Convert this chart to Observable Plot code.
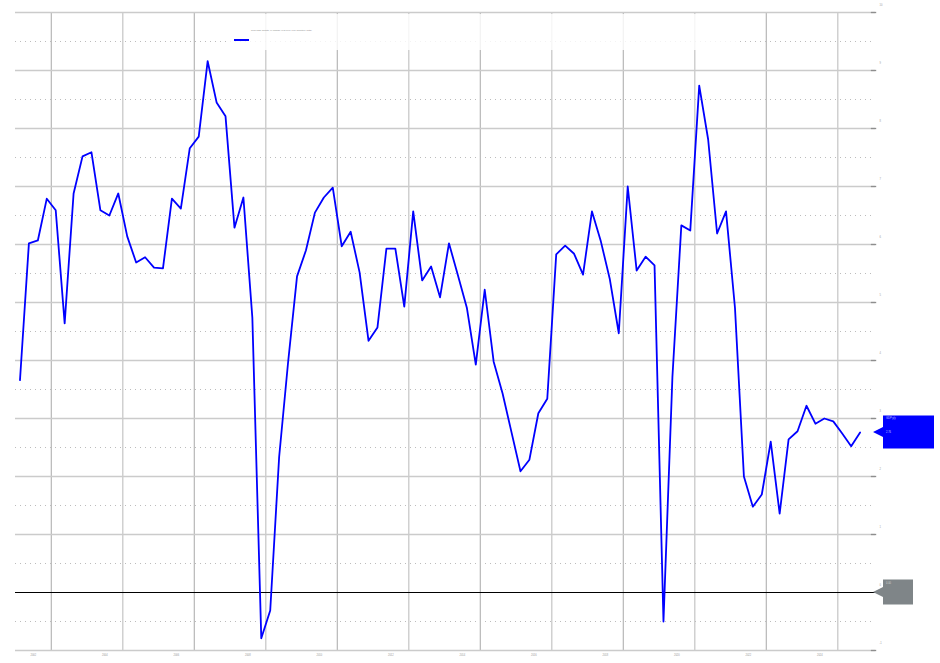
<!DOCTYPE html>
<html><head><meta charset="utf-8">
<script src="https://cdn.jsdelivr.net/npm/d3@7"></script>
<script src="https://cdn.jsdelivr.net/npm/@observablehq/plot@0.6"></script>
<style>body{margin:0;background:#fff}#chart svg{display:block}</style>
</head><body><div id="chart"></div>
<script>
// Quarterly series, first observation 2002 Q1 (plotted at mid-quarter)
const firstYear = 2002;
const seriesName = "Real GDP growth, % change year over year (quarterly data)";
const values = [
  3.66, 6.02, 6.07, 6.79, 6.59, 4.64, 6.88, 7.52, 7.59, 6.59,
  6.50, 6.88, 6.14, 5.69, 5.78, 5.60, 5.59, 6.79, 6.62, 7.66,
  7.86, 9.16, 8.45, 8.21, 6.29, 6.81, 4.74, -0.79, -0.31, 2.34,
  3.97, 5.45, 5.90, 6.55, 6.81, 6.98, 5.97, 6.22, 5.52, 4.34,
  4.57, 5.93, 5.93, 4.93, 6.57, 5.38, 5.62, 5.09, 6.02, 5.47,
  4.91, 3.93, 5.22, 3.98, 3.43, 2.76, 2.09, 2.29, 3.09, 3.34,
  5.83, 5.98, 5.84, 5.48, 6.57, 6.05, 5.40, 4.47, 7.00, 5.55,
  5.79, 5.64, -0.50, 3.71, 6.33, 6.24, 8.74, 7.81, 6.19, 6.57,
  4.91, 2.00, 1.48, 1.69, 2.60, 1.36, 2.64, 2.78, 3.22, 2.91,
  3.00, 2.95, 2.74, 2.52, 2.76
];
const yTicks = [-1, 0, 1, 2, 3, 4, 5, 6, 7, 8, 9, 10];
const yMinor = [-0.5, 0.5, 1.5, 2.5, 3.5, 4.5, 5.5, 6.5, 7.5, 8.5, 9.5];
const xGrid = [2003, 2005, 2007, 2009, 2011, 2013, 2015, 2017, 2019, 2021, 2023, 2025];
const xLabels = [2002, 2004, 2006, 2008, 2010, 2012, 2014, 2016, 2018, 2020, 2022, 2024];
const xDomain = [2002, 2026];
const yDomain = [-1, 10];
const lastLabelTop = "GDP y/y";
const zeroLabel = "0.00";

const data = values.map((v, i) => ({t: firstYear + i / 4 + 0.125, v}));
const last = data[data.length - 1];

const plot = Plot.plot({
  width: 940,
  height: 663,
  marginLeft: 15,
  marginRight: 67,
  marginTop: 12,
  marginBottom: 13,
  style: {background: "#fff", fontFamily: "Liberation Sans, Arial, sans-serif", overflow: "visible"},
  x: {type: "linear", domain: xDomain, axis: null},
  y: {type: "linear", domain: yDomain, axis: null},
  marks: [
    Plot.ruleX(xGrid.filter((d, i) => i % 2 === 0), {x: d => d, y1: yDomain[0], y2: yDomain[1], stroke: "#a8a8a8", strokeWidth: 1}),
    Plot.ruleX(xGrid.filter((d, i) => i % 2 === 1), {x: d => d, y1: yDomain[0], y2: yDomain[1], stroke: "#d0d0d0", strokeWidth: 1.5}),
    Plot.ruleY(yMinor, {y: d => d, x1: xDomain[0], x2: xDomain[1] - 0.03, stroke: "#bcbcbc", strokeDasharray: "1,4", strokeWidth: 1}),
    Plot.ruleY(yTicks.filter(d => d !== 0), {y: d => d, x1: xDomain[0], x2: xDomain[1] + 0.06, stroke: "#cbcbcb", strokeWidth: 1.3}),
    Plot.ruleY(yTicks.filter(d => d !== 0), {y: d => d, x1: xDomain[1] - 0.06, x2: xDomain[1] + 0.09, stroke: "#8e8e8e", strokeWidth: 1.3}),
    Plot.ruleY([0], {y: d => d, x1: xDomain[0], x2: xDomain[1] + 0.06, stroke: "#000", strokeWidth: 1}),
    Plot.text(yTicks, {x: xDomain[1], y: d => d, text: d => String(d), dx: 6, dy: -7, fontSize: 2.6, fill: "#9a9a9a", textAnchor: "start"}),
    Plot.text(xLabels, {x: d => d + 0.5, y: yDomain[0], text: d => String(d), dy: 5, fontSize: 2.6, fill: "#9a9a9a"}),
    Plot.line(data, {x: "t", y: "v", stroke: "#0000ff", strokeWidth: 1.8})
  ]
});

const svg = d3.select(plot);
const xs = plot.scale("x"), ys = plot.scale("y");
const xr = xs.apply(xDomain[1]);

// legend
const lg = svg.append("g").attr("text-anchor", "start");
lg.append("rect").attr("x", 230).attr("y", 14).attr("width", 510).attr("height", 36).attr("fill", "#fff").attr("fill-opacity", 0.82);
lg.append("line").attr("x1", 234).attr("x2", 249).attr("y1", 40).attr("y2", 40).attr("stroke", "#0000ff").attr("stroke-width", 2);
lg.append("text").attr("x", 251).attr("y", 31).attr("font-size", 2.3).attr("fill", "#888").text(seriesName);

// value flags
function flag(yv, w, h, fill, lines, txtFill) {
  const yp = ys.apply(yv);
  const x0 = xr, x1 = xr + 10;
  const g = svg.append("g").attr("text-anchor", "start");
  g.append("path")
    .attr("d", `M${x0},${yp} L${x1},${yp - 5} L${x1},${yp - h / 2} L${x1 + w},${yp - h / 2} L${x1 + w},${yp + h / 2} L${x1},${yp + h / 2} L${x1},${yp + 5} Z`)
    .attr("fill", fill);
  lines.forEach((t, i) => {
    g.append("text").attr("x", x1 + 3).attr("y", yp - h / 2 + 4 + i * 14).attr("font-size", 2.6).attr("fill", txtFill).text(t);
  });
}
flag(last.v, 51, 33, "#0000ff", [lastLabelTop, last.v.toFixed(2)], "#c8c8ff");
flag(0, 30, 25, "#7f8588", [zeroLabel], "#d0d0d0");

document.getElementById("chart").append(plot);
</script>
</body></html>
